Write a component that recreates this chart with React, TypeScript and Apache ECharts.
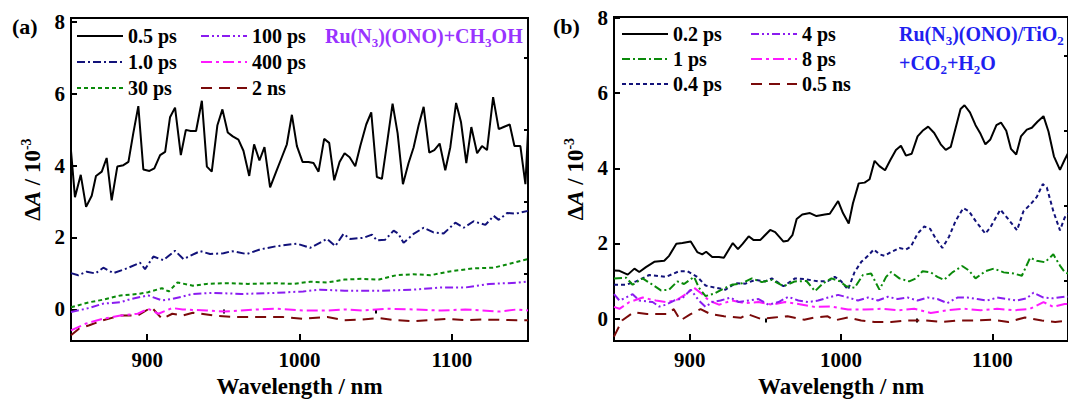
import React, { useEffect, useRef } from 'react';
import * as echarts from 'echarts';

const FONT = '"Liberation Serif", "Times New Roman", serif';

// ---------- panel (a) data: [wavelength nm, ΔA / 1e-3] ----------
const a_05ps: [number, number][] = [
  [850, 4.41], [852.6, 3.12], [856.4, 3.74], [859.9, 2.85], [863.6, 3.16], [866.4, 3.71], [870.2, 3.83], [873.4, 4.21],
  [876.7, 3.03], [880.4, 3.97], [884.4, 4.01], [887.7, 4.1], [890.9, 4.9], [894.2, 5.65], [897.5, 3.89], [901.5, 3.85],
  [904.7, 3.92], [908.5, 4.29], [911.8, 4.38], [915, 5.34], [918.3, 5.61], [922.1, 4.29], [925.4, 4.99], [928.6, 4.96],
  [932.1, 4.96], [935.9, 5.8], [939.2, 3.97], [942.4, 3.83], [946.1, 5.12], [949.4, 5.56], [952.9, 4.92], [956.2, 4.81],
  [959.9, 4.72], [963.2, 4.41], [967, 3.71], [970.2, 4.59], [973.7, 4.14], [977, 4.51], [980.7, 3.39], [984.7, 3.83],
  [988.4, 4.23], [991.7, 4.59], [995, 5.41], [998.3, 4.54], [1002, 4.1], [1005.9, 4.1], [1009.2, 4.07], [1012.5, 3.83],
  [1016.2, 4.74], [1019.5, 4.63], [1022.8, 3.59], [1026.3, 4.1], [1029.6, 4.34], [1032.9, 4.23], [1036.6, 3.98], [1039.9, 4.54],
  [1043.8, 5.14], [1047.1, 5.48], [1050.8, 3.68], [1054.1, 3.63], [1057.8, 4.72], [1061.1, 5.72], [1064.4, 4.9], [1067.9, 3.48],
  [1071.6, 4.07], [1074.9, 4.5], [1078.2, 5.12], [1081.5, 5.63], [1085.2, 4.36], [1088.5, 4.43], [1092, 4.61], [1095.7, 3.87],
  [1099, 4.51], [1102.8, 5.74], [1106, 5.21], [1109.5, 4.07], [1112.8, 5.07], [1116.6, 4.34], [1119.8, 4.54], [1123.1, 4.43],
  [1127.1, 5.9], [1130.8, 5.01], [1134, 5.07], [1138, 5.14], [1141.1, 4.54], [1145, 4.54], [1148.3, 3.48], [1150, 4.94],
];
const a_10ps: [number, number][] = [
  [850, 1.01], [854.8, 0.95], [860.3, 1.05], [866, 1.0], [871.2, 1.16], [877.8, 1.01], [886.6, 1.14], [895.3, 1.3],
  [898.6, 1.12], [904.1, 1.47], [910.6, 1.37], [918.3, 1.63], [923.8, 1.4], [934.8, 1.62], [941.3, 1.54], [950.1, 1.56],
  [955.6, 1.62], [965.4, 1.54], [974.2, 1.67], [985.1, 1.76], [998.3, 1.83], [1007, 1.71], [1018, 1.96], [1023.5, 1.76],
  [1028.9, 2.1], [1033.3, 1.96], [1042, 1.99], [1047.6, 2.08], [1050.8, 1.92], [1056.3, 1.94], [1061.8, 2.19], [1065, 2.1],
  [1068.3, 1.85], [1074.9, 2.1], [1081.5, 2.27], [1088, 2.14], [1094.6, 2.11], [1102.3, 2.41], [1107.8, 2.27], [1114.3, 2.45],
  [1122, 2.35], [1127.5, 2.6], [1130.8, 2.49], [1136.3, 2.68], [1141.7, 2.66], [1150, 2.74],
];
const a_30ps: [number, number][] = [
  [850, 0.06], [862, 0.2], [871, 0.27], [882.5, 0.39], [893.8, 0.43], [900.6, 0.48], [909.7, 0.59], [914.2, 0.5],
  [919.9, 0.75], [930, 0.66], [939.1, 0.71], [952.7, 0.73], [966.2, 0.71], [984.4, 0.73], [995.7, 0.71], [1007, 0.77],
  [1018.3, 0.75], [1029.6, 0.83], [1040.9, 0.85], [1052.2, 0.83], [1063.5, 0.95], [1074.8, 0.98], [1086.1, 0.95], [1097.5, 1.05],
  [1101, 1.07], [1114, 1.14], [1127.5, 1.16], [1136, 1.25], [1150, 1.4],
];
const a_100ps: [number, number][] = [
  [850, -0.07], [862, 0.04], [871, 0.16], [882.5, 0.2], [889.3, 0.29], [900.6, 0.39], [909.7, 0.25], [916.5, 0.29],
  [930, 0.43], [943.6, 0.46], [961.7, 0.43], [984.4, 0.46], [1002.4, 0.5], [1013.7, 0.55], [1029.6, 0.52], [1052.2, 0.52],
  [1074.8, 0.55], [1093, 0.61], [1108.8, 0.61], [1124.6, 0.71], [1142.7, 0.74], [1150, 0.78],
];
const a_400ps: [number, number][] = [
  [850, -0.58], [860, -0.39], [871, -0.26], [882.5, -0.17], [893.8, -0.12], [900.6, 0.02], [907.4, -0.12], [916.5, 0.04],
  [923.3, 0.0], [939.1, -0.03], [950.4, -0.06], [961.7, -0.03], [973, 0.0], [984.4, 0.02], [1002.4, -0.03], [1018.3, -0.03],
  [1029.6, 0.0], [1040.9, -0.03], [1056.8, 0.02], [1074.8, 0.0], [1093, -0.03], [1108.8, 0.0], [1131.4, -0.06], [1142.7, 0.0],
  [1150, -0.03],
];
const a_2ns: [number, number][] = [
  [850, -0.72], [855.4, -0.53], [862, -0.44], [871, -0.3], [882.5, -0.17], [893.8, -0.17], [902.9, 0.06], [909.7, -0.26],
  [916.5, -0.12], [923.3, -0.17], [930, -0.09], [943.6, -0.17], [957.2, -0.21], [973, -0.21], [988.9, -0.21], [1002.4, -0.26],
  [1018.3, -0.21], [1029.6, -0.3], [1040.9, -0.28], [1052.2, -0.24], [1063.5, -0.3], [1074.8, -0.33], [1097.5, -0.26], [1108.8, -0.3],
  [1120.1, -0.28], [1142.7, -0.3], [1150, -0.3],
];

// ---------- panel (b) data ----------
const b_02ps: [number, number][] = [
  [850, 1.28], [853.6, 1.27], [859.1, 1.17], [863.5, 1.33], [866.7, 1.24], [871.1, 1.37], [876.6, 1.51], [883.2, 1.54],
  [886.4, 1.67], [891.2, 1.99], [895.2, 2.01], [900.7, 2.05], [905, 1.77], [908.3, 1.71], [910.9, 1.78], [914.9, 1.64],
  [919.3, 1.64], [922.6, 1.62], [928.5, 2.01], [931.9, 1.85], [935, 1.99], [939, 2.19], [942.3, 2.09], [946.6, 2.09],
  [953.2, 2.36], [956.5, 2.3], [962, 2.05], [964.8, 2.07], [967.9, 2.22], [970.7, 2.65], [974.4, 2.77], [979.5, 2.81],
  [983.8, 2.73], [989.3, 2.77], [992.6, 2.79], [998.1, 3.13], [1001.3, 2.81], [1005.1, 2.53], [1007.9, 3.07], [1011.7, 3.6],
  [1015.6, 3.62], [1018.9, 3.71], [1022.2, 4.2], [1025.4, 4.06], [1029.1, 3.95], [1032.7, 4.23], [1036.3, 4.49], [1039.6, 4.6],
  [1042.9, 4.34], [1046.7, 4.39], [1050.6, 4.85], [1053.9, 5.0], [1057.6, 5.11], [1061.6, 4.94], [1065.9, 4.64], [1069.2, 4.49],
  [1072.5, 4.57], [1075.7, 5.07], [1079, 5.58], [1081.6, 5.68], [1085.2, 5.49], [1088.9, 5.15], [1092.2, 4.92], [1095.4, 4.64],
  [1098.7, 4.77], [1102.7, 5.15], [1105.7, 5.22], [1109.2, 5.0], [1112.3, 4.52], [1115.8, 4.37], [1118.9, 4.85], [1122.8, 5.03],
  [1126.1, 5.08], [1129.8, 5.24], [1133.8, 5.39], [1137.1, 4.98], [1140.7, 4.32], [1144.7, 3.96], [1147.8, 4.23], [1150, 4.4],
];
const b_1ps: [number, number][] = [
  [850, 1.07], [858, 1.09], [862.3, 0.9], [868.9, 1.07], [875.5, 0.9], [881, 0.75], [886.4, 0.77], [891.9, 0.99],
  [896.3, 0.92], [902.9, 1.11], [906.1, 0.82], [910.5, 0.6], [916, 0.66], [922.6, 0.8], [928, 0.9], [934.6, 0.94],
  [941.1, 1.07], [947.7, 0.97], [954.3, 1.03], [962, 0.86], [969.6, 0.99], [977.2, 1.0], [982.8, 0.73], [988.2, 0.94],
  [993.7, 1.07], [999.2, 0.99], [1003.5, 0.86], [1009, 0.82], [1014.5, 1.16], [1019.9, 1.2], [1025.4, 0.77], [1029.8, 1.11],
  [1033.1, 1.24], [1038.6, 1.07], [1045.1, 0.99], [1049.5, 1.07], [1053.9, 1.26], [1059.3, 1.23], [1063.7, 1.11], [1068.1, 1.03],
  [1073.6, 1.23], [1080.1, 1.4], [1084.5, 1.28], [1088.9, 1.07], [1095.4, 1.26], [1101, 1.33], [1107.5, 1.23], [1114.1, 1.2],
  [1119.5, 1.14], [1125, 1.62], [1129.4, 1.54], [1134.8, 1.5], [1140.3, 1.71], [1144.7, 1.41], [1147.8, 1.24], [1150, 1.2],
];
const b_04ps: [number, number][] = [
  [850, 0.9], [858, 0.9], [864.6, 0.99], [873.3, 1.16], [884.3, 1.11], [893, 1.26], [898.5, 1.26], [905, 1.11],
  [910.5, 0.88], [917.1, 0.82], [923.7, 0.77], [930.2, 0.94], [936.8, 0.93], [943.4, 1.03], [950, 0.99], [954.3, 1.07],
  [962, 0.86], [969.6, 1.07], [976.2, 1.05], [984.9, 0.99], [991.5, 1.0], [995.9, 1.11], [1000.2, 0.99], [1004.6, 0.77],
  [1009, 1.24], [1013.4, 1.51], [1017.8, 1.67], [1021.7, 1.84], [1025.4, 1.71], [1028.7, 1.67], [1033.1, 1.77], [1038.6, 1.88],
  [1042.9, 1.84], [1046.2, 1.92], [1050.6, 2.26], [1055, 2.45], [1058.9, 2.39], [1062.6, 2.13], [1067, 1.88], [1071.4, 2.18],
  [1075.7, 2.6], [1080.8, 2.94], [1084.5, 2.86], [1088.9, 2.6], [1095.4, 2.26], [1098.7, 2.43], [1105.3, 2.9], [1109.7, 2.69],
  [1116.3, 2.35], [1120.6, 2.86], [1125, 3.03], [1129.4, 3.24], [1133.3, 3.58], [1136, 3.49], [1140.3, 2.86], [1144.7, 2.35],
  [1147.8, 2.69], [1150, 2.8],
];
const b_4ps: [number, number][] = [
  [850, 0.65], [853.6, 0.48], [858, 0.56], [862.3, 0.65], [866.7, 0.48], [875.5, 0.44], [879.9, 0.32], [884.3, 0.37],
  [889.7, 0.48], [895.2, 0.54], [900.7, 0.77], [906.1, 0.48], [910.5, 0.31], [914.9, 0.44], [920.4, 0.48], [927, 0.56],
  [932.4, 0.44], [939, 0.48], [945.5, 0.52], [952.1, 0.37], [958.7, 0.44], [965.2, 0.58], [971.8, 0.48], [978.3, 0.44],
  [984.9, 0.48], [991.5, 0.56], [998.1, 0.63], [1004.6, 0.56], [1011.2, 0.48], [1017.8, 0.56], [1024.4, 0.48], [1031, 0.58],
  [1037.5, 0.52], [1044.1, 0.56], [1050.6, 0.48], [1057.2, 0.56], [1063.7, 0.52], [1070.3, 0.41], [1076.9, 0.56], [1083.4, 0.56],
  [1090, 0.52], [1096.6, 0.48], [1103.1, 0.56], [1109.7, 0.52], [1116.3, 0.48], [1122.8, 0.54], [1127.2, 0.69], [1133.8, 0.56],
  [1140.3, 0.54], [1147.8, 0.58], [1150, 0.58],
];
const b_8ps: [number, number][] = [
  [850, 0.31], [853.6, 0.26], [860.2, 0.44], [868.9, 0.56], [877.7, 0.48], [884.3, 0.44], [890.8, 0.48], [897.4, 0.65],
  [902.9, 0.82], [908.3, 0.65], [912.7, 0.48], [919.3, 0.37], [928, 0.48], [936.8, 0.41], [945.5, 0.44], [954.3, 0.37],
  [963.1, 0.44], [971.8, 0.39], [982.8, 0.31], [993.7, 0.32], [1004.6, 0.24], [1015.6, 0.24], [1026.5, 0.26], [1037.5, 0.22],
  [1048.4, 0.26], [1059.3, 0.15], [1070.3, 0.22], [1081.3, 0.26], [1092.2, 0.22], [1103.1, 0.26], [1114.1, 0.22], [1125, 0.26],
  [1133.8, 0.44], [1140.3, 0.31], [1147.8, 0.39], [1150, 0.39],
];
const b_05ns: [number, number][] = [
  [850, -0.48], [855.3, -0.05], [863, 0.17], [871.8, 0.12], [878.4, 0.12], [885.1, 0.12], [889.5, 0.25], [893.9, -0.05],
  [900.6, 0.12], [907.2, 0.25], [913.8, 0.12], [922.7, 0.06], [933.7, 0.02], [938.2, 0.12], [947, -0.01], [955.8, 0.03],
  [964.7, 0.06], [975.7, -0.03], [982.4, 0.03], [991.2, 0.06], [995.6, -0.05], [1004.5, 0.03], [1013.3, -0.05], [1022.2, -0.09],
  [1033.2, -0.09], [1044.3, -0.05], [1055.3, -0.05], [1066.4, -0.09], [1077.4, -0.05], [1088.5, -0.05], [1099.5, -0.03], [1110.6, -0.09],
  [1121.6, 0.03], [1132.7, -0.05], [1141.5, -0.09], [1150, -0.05],
];

const xMajor = [900, 1000, 1100];
const xMinor = [950, 1050];
const yMajor = [0, 2, 4, 6, 8];
const yMinor = [1, 3, 5, 7];

const legendA1 = ['0.5 ps', '1.0 ps', '30 ps'];
const legendA2 = ['100 ps', '400 ps', '2 ns'];
const legendB1 = ['0.2 ps', '1 ps', '0.4 ps'];
const legendB2 = ['4 ps', '8 ps', '0.5 ns'];

const C = {
  black: '#000000',
  navy: '#12127a',
  green: '#0a8a0a',
  purple: '#8a1cf0',
  magenta: '#ff19ff',
  darkred: '#7a0a0a',
};
const DASH = {
  solid: 'solid' as any,
  dashDot: [8, 3, 2, 3],
  short: [4, 3],
  dashDotDot: [8, 3, 2, 3, 2, 3],
  longDashDot: [11, 4, 3, 4],
  dashed: [11, 7],
};

function mkSeries(name: string, data: [number, number][], gi: number, color: string, type: any, width = 2) {
  return {
    name,
    type: 'line',
    xAxisIndex: gi * 2,
    yAxisIndex: gi * 2,
    data,
    symbol: 'none',
    showSymbol: false,
    silent: true,
    lineStyle: { color, width, type },
    itemStyle: { color },
  };
}

const fmt = (v: number) => String(v);

function xAxes(gi: number) {
  const base = {
    gridIndex: gi,
    type: 'value',
    min: 850,
    max: 1150,
    splitLine: { show: false },
  };
  return [
    {
      ...base,
      axisLine: { show: true, onZero: false, lineStyle: { color: '#000', width: 2 } },
      axisTick: { show: true, inside: true, length: 7, customValues: xMajor, lineStyle: { color: '#000', width: 2 } },
      axisLabel: {
        show: true, customValues: xMajor, margin: 8, color: '#000', formatter: fmt,
        fontFamily: FONT, fontSize: 21, fontWeight: 'bold',
      },
      name: 'Wavelength / nm',
      nameLocation: 'middle',
      nameGap: 30,
      nameTextStyle: { fontFamily: FONT, fontSize: 23, fontWeight: 'bold', color: '#000' },
    },
    {
      ...base,
      axisLine: { show: false },
      axisTick: { show: true, inside: true, length: 4, customValues: xMinor, lineStyle: { color: '#000', width: 2 } },
      axisLabel: { show: false },
    },
  ];
}

function yAxes(gi: number, min: number, max: number) {
  const base = { gridIndex: gi, type: 'value', min, max, splitLine: { show: false } };
  const nameRich = {
    d: { fontFamily: FONT, fontSize: 23, fontWeight: 'bold', color: '#000', lineHeight: 26 },
    i: { fontFamily: FONT, fontSize: 23, fontWeight: 'bold', fontStyle: 'italic', color: '#000', lineHeight: 26 },
    s: { fontFamily: FONT, fontSize: 14, fontWeight: 'bold', color: '#000', lineHeight: 14, verticalAlign: 'top' },
  };
  return [
    {
      ...base,
      axisLine: { show: true, onZero: false, lineStyle: { color: '#000', width: 2 } },
      axisTick: { show: true, inside: true, length: 6, customValues: yMajor, lineStyle: { color: '#000', width: 2 } },
      axisLabel: {
        show: true, customValues: yMajor, margin: 6, color: '#000', formatter: fmt,
        fontFamily: FONT, fontSize: 21, fontWeight: 'bold',
      },
      name: '{d|Δ}{i|A}{d| / 10}{s|-3}',
      nameLocation: 'middle',
      nameRotate: 90,
      nameGap: 26,
      nameTextStyle: { fontFamily: FONT, fontSize: 23, fontWeight: 'bold', color: '#000', rich: nameRich },
    },
    {
      ...base,
      axisLine: { show: false },
      axisTick: { show: true, inside: true, length: 4, customValues: yMinor, lineStyle: { color: '#000', width: 2 } },
      axisLabel: { show: false },
    },
  ];
}

function legend(data: string[], left: number, top: number, gap: number) {
  return {
    data,
    orient: 'vertical',
    left,
    top,
    padding: 0,
    itemWidth: 46,
    itemHeight: 14,
    itemGap: gap,
    selectedMode: false,
    itemStyle: { opacity: 0, borderWidth: 0 },
    textStyle: { fontFamily: FONT, fontSize: 20, fontWeight: 'bold', color: '#000', lineHeight: 20 },
  };
}

function richText(text: string, x: number, y: number, color: string, size: number) {
  return {
    type: 'text',
    x,
    y,
    silent: true,
    style: {
      text,
      fill: color,
      fontFamily: FONT,
      fontSize: size,
      fontWeight: 'bold',
      verticalAlign: 'middle',
      rich: {
        n: { fill: color, fontFamily: FONT, fontSize: size, fontWeight: 'bold', lineHeight: 26 },
        s: { fill: color, fontFamily: FONT, fontSize: 13, fontWeight: 'bold', lineHeight: 14, verticalAlign: 'bottom' },
      },
    },
  };
}

export default function App() {
  const ref = useRef<HTMLDivElement>(null);
  useEffect(() => {
    if (!ref.current) return;
    const chart = echarts.init(ref.current, null, { renderer: 'svg' });
    const option: any = {
      animation: false,
      backgroundColor: '#ffffff',
      grid: [
        { left: 71, top: 18, width: 457, height: 337, show: true, borderColor: '#000', borderWidth: 2, backgroundColor: 'transparent' },
        { left: 614, top: 17, width: 457, height: 338, show: true, borderColor: '#000', borderWidth: 2, backgroundColor: 'transparent' },
      ],
      xAxis: [...xAxes(0), ...xAxes(1)],
      yAxis: [...yAxes(0, -0.88, 8.1), ...yAxes(1, -0.6, 8.03)],
      legend: [
        legend(legendA1, 76, 26, 6),
        legend(legendA2, 200, 26, 6),
        legend(legendB1, 621, 24, 5),
        legend(legendB2, 750, 24, 5),
      ],
      series: [
        mkSeries('2 ns', a_2ns, 0, C.darkred, DASH.dashed),
        mkSeries('400 ps', a_400ps, 0, C.magenta, DASH.longDashDot),
        mkSeries('100 ps', a_100ps, 0, C.purple, DASH.dashDotDot),
        mkSeries('30 ps', a_30ps, 0, C.green, DASH.short),
        mkSeries('1.0 ps', a_10ps, 0, C.navy, DASH.dashDot),
        mkSeries('0.5 ps', a_05ps, 0, C.black, DASH.solid),
        mkSeries('0.5 ns', b_05ns, 1, C.darkred, DASH.dashed),
        mkSeries('8 ps', b_8ps, 1, C.magenta, DASH.longDashDot),
        mkSeries('4 ps', b_4ps, 1, C.purple, DASH.dashDotDot),
        mkSeries('0.4 ps', b_04ps, 1, C.navy, DASH.short),
        mkSeries('1 ps', b_1ps, 1, C.green, DASH.dashDot),
        mkSeries('0.2 ps', b_02ps, 1, C.black, DASH.solid),
      ],
      graphic: [
        { type: 'text', x: 12, y: 26, silent: true, style: { text: '(a)', fill: '#000', fontFamily: FONT, fontSize: 22, fontWeight: 'bold', verticalAlign: 'middle' } },
        { type: 'text', x: 553, y: 26, silent: true, style: { text: '(b)', fill: '#000', fontFamily: FONT, fontSize: 22, fontWeight: 'bold', verticalAlign: 'middle' } },
        richText('{n|Ru(N}{s|3}{n|)(ONO)+CH}{s|3}{n|OH}', 325, 36, '#9933ff', 20),
        richText('{n|Ru(N}{s|3}{n|)(ONO)/TiO}{s|2}', 899, 34, '#1f1ff0', 20),
        richText('{n|+CO}{s|2}{n|+H}{s|2}{n|O}', 899, 63, '#1f1ff0', 20),
      ],
    };
    chart.setOption(option);
    return () => chart.dispose();
  }, []);
  return (
    <div
      ref={ref}
      style={{ position: 'fixed', left: 0, top: 0, width: 1068, height: 403, background: '#fff' }}
    />
  );
}
